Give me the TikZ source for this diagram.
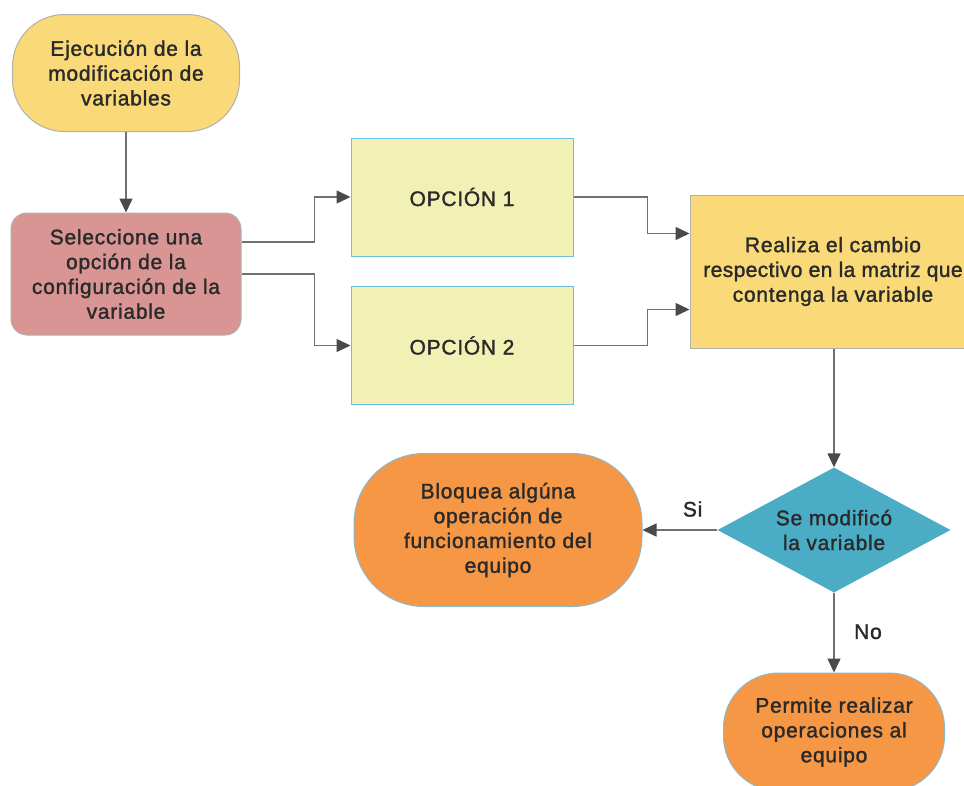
\documentclass[tikz,border=0pt]{standalone}
\usepackage{fontspec}
\setmainfont{Liberation Sans}
\newfontfamily\diafont[FakeBold=1.5,LetterSpace=3.5]{Liberation Sans}
\newfontfamily\diafonttight[FakeBold=1.5,LetterSpace=1.8]{Liberation Sans}
\usetikzlibrary{arrows.meta,shapes.geometric}
\definecolor{yel}{HTML}{F9D978}
\definecolor{pink}{HTML}{D99494}
\definecolor{opt}{HTML}{F1F0B5}
\definecolor{optb}{HTML}{6BC0DA}
\definecolor{dia}{HTML}{4BACC6}
\definecolor{ora}{HTML}{F59745}
\definecolor{orab}{HTML}{8FB8C8}
\definecolor{bord}{HTML}{B0B0B0}
\definecolor{txt}{HTML}{2A2A2A}
\definecolor{lin}{HTML}{707070}
\definecolor{tip}{HTML}{4A4A4A}
\begin{document}
\begin{tikzpicture}[x=1pt,y=-1pt,
  base/.style={align=center, font=\diafont\fontsize{21}{24.8}\selectfont, text=txt, inner sep=0pt},
  terminal/.style={base, draw=bord, line width=1pt},
  optbox/.style={base, fill=opt, draw=optb, line width=1pt, minimum width=222pt, minimum height=118pt},
  conn/.style={draw=lin, line width=1.5pt, -{Triangle[length=14pt,width=13pt,fill=tip,color=tip]}},
  lbl/.style={font=\diafont\fontsize{21}{22}\selectfont, text=txt, inner sep=0pt}]
\useasboundingbox[fill=white] (0,0) rectangle (964,785);

\node[terminal, fill=yel, minimum width=227pt, minimum height=117pt, rounded corners=52pt] (start) at (126,73) {Ejecución de la\\modificación de\\variables};
\node[terminal, fill=pink, minimum width=230pt, minimum height=122pt, rounded corners=16pt] (sel) at (126,274) {Seleccione una\\opción de la\\configuración de la\\variable};
\node[optbox] (op1) at (462,197) {OPCIÓN 1};
\node[optbox] (op2) at (462,345.5) {OPCIÓN 2};
\node[terminal, fill=yel, minimum width=286pt, minimum height=153pt] (rea) at (833,271.5) {Realiza el cambio\\{\diafonttight respectivo en la matriz que}\hspace{6pt}\\contenga la variable};
\node[base, shape=diamond, fill=dia, minimum width=233pt, minimum height=125pt, aspect=1.86] (dec) at (834,530) {Se modificó\\la variable};
\node[terminal, fill=ora, draw=orab, minimum width=288pt, minimum height=153pt, rounded corners=70pt] (blo) at (498,530) {Bloquea algúna\\operación de\\funcionamiento del\\equipo};
\node[terminal, fill=ora, draw=orab, minimum width=221pt, minimum height=118pt, rounded corners=55pt] (per) at (834,732) {Permite realizar\\operaciones al\\equipo};

\draw[conn] (start) -- (sel);
\draw[conn] ([yshift=32pt]sel.east) -- ++(73,0) |- (op1.west);
\draw[conn] (sel.east) -- ++(73,0) |- (op2.west);
\draw[conn] (op1.east) -- ++(74,0) |- ([yshift=38pt]rea.west);
\draw[conn] (op2.east) -- ++(74,0) |- ([yshift=-38pt]rea.west);
\draw[conn] (rea.south -| dec.north) -- (dec.north);
\draw[conn] (dec.west) -- node[lbl, pos=0.33, yshift=21pt] (si) {Si} (blo.east);
\draw[conn] (dec.south) -- node[lbl, pos=0.49, xshift=34pt] (no) {No} (per.north);
\end{tikzpicture}
\end{document}
